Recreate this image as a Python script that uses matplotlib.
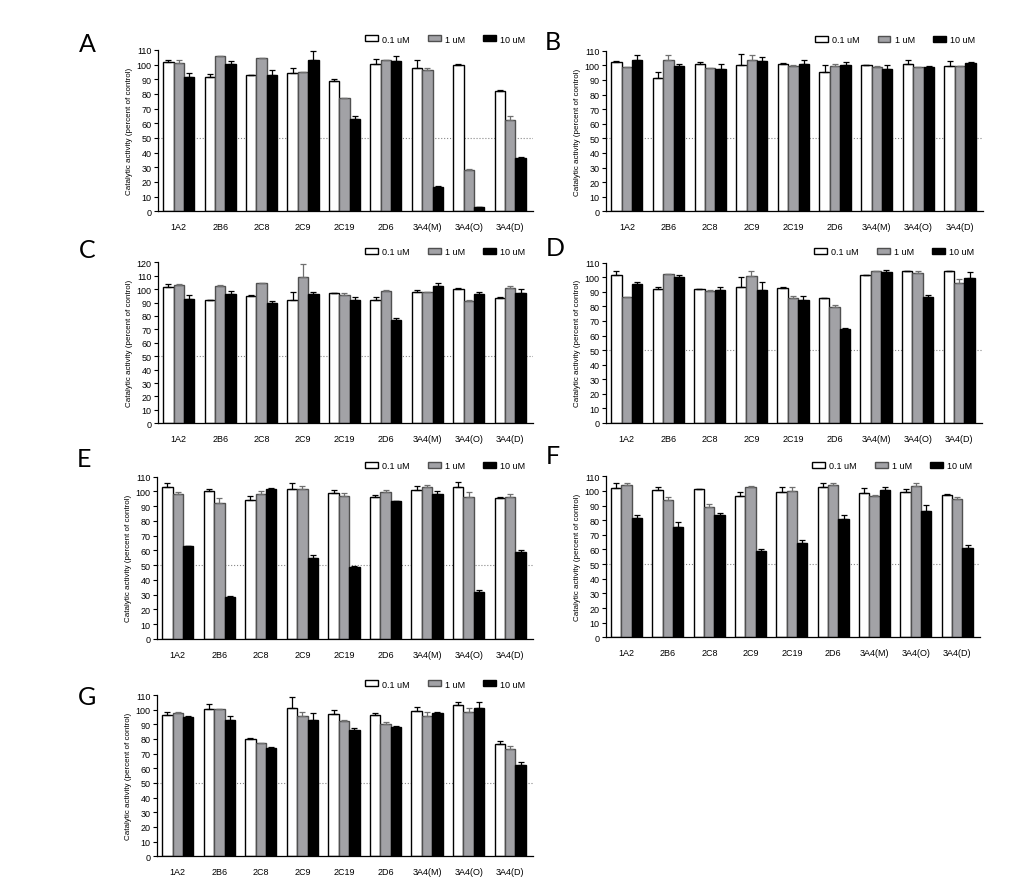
import matplotlib
matplotlib.use("Agg")
import matplotlib.pyplot as plt
import numpy as np

plt.rcParams['font.family'] = ['Liberation Sans', 'DejaVu Sans']

# 数据
isoforms = ['1A2', '2B6', '2C8', '2C9', '2C19', '2D6', '3A4(M)', '3A4(O)', '3A4(D)']
doses = ['0.1 uM', '1 uM', '10 uM']

# mean / upper error cap, per panel, per dose
A_mean = [[101.6, 91.4, 92.7, 94.1, 88.9, 100.2, 97.5, 99.8, 82.0],
          [100.9, 105.7, 104.3, 94.8, 77.0, 103.2, 96.1, 28.4, 62.3],
          [91.6, 100.5, 93.0, 103.2, 62.7, 102.7, 16.8, 2.7, 36.6]]
A_cap = [[103.0, 93.4, 92.9, 97.5, 90.5, 104.0, 103.4, 100.5, 82.7],
         [103.0, 106.1, 104.8, 95.0, 77.2, 103.4, 98.0, 28.9, 65.2],
         [94.0, 102.3, 96.1, 109.3, 65.0, 105.7, 17.0, 2.8, 37.0]]

B_mean = [[102.0, 91.1, 100.9, 100.0, 101.1, 95.4, 100.0, 101.1, 99.3],
          [98.6, 103.4, 97.9, 103.4, 99.8, 99.3, 98.9, 98.6, 99.3],
          [103.6, 99.5, 97.5, 103.0, 100.9, 100.2, 97.7, 98.9, 101.6]]
B_cap = [[103.0, 95.2, 102.0, 107.5, 101.6, 100.0, 100.5, 103.7, 102.7],
         [99.0, 106.8, 98.0, 106.8, 100.0, 100.7, 99.8, 99.0, 99.8],
         [106.8, 100.7, 100.7, 105.5, 103.9, 102.3, 100.5, 99.8, 102.5]]

C_mean = [[101.7, 92.0, 95.0, 92.0, 96.9, 92.0, 97.6, 100.1, 93.2],
          [103.2, 102.0, 104.2, 108.8, 95.9, 98.6, 97.6, 90.9, 100.6],
          [92.5, 96.4, 89.8, 96.4, 92.0, 77.0, 102.4, 96.4, 97.1]]
C_cap = [[103.6, 92.2, 95.7, 97.6, 97.1, 94.0, 99.6, 100.9, 94.4],
         [103.6, 103.4, 104.4, 118.5, 96.9, 99.4, 98.1, 91.9, 102.1],
         [96.0, 98.4, 91.0, 97.6, 94.0, 78.5, 104.6, 98.1, 100.1]]

D_mean = [[101.6, 91.8, 91.8, 93.2, 92.5, 85.6, 101.4, 104.1, 104.1],
          [86.3, 102.0, 90.9, 100.7, 85.6, 79.9, 104.1, 103.2, 95.9],
          [95.4, 100.0, 91.3, 91.3, 84.2, 64.6, 103.4, 86.3, 99.3]]
D_cap = [[104.1, 93.2, 92.2, 100.0, 93.2, 85.8, 101.8, 104.6, 104.6],
         [86.8, 102.2, 91.0, 104.3, 87.0, 81.3, 104.6, 104.6, 99.1],
         [97.0, 101.4, 93.6, 97.0, 87.4, 65.1, 104.8, 88.1, 103.4]]

E_mean = [[102.7, 100.0, 93.9, 101.8, 99.1, 96.4, 101.1, 102.7, 95.9],
          [98.0, 92.1, 98.6, 101.8, 96.6, 99.3, 102.9, 96.4, 96.4],
          [63.0, 28.4, 101.8, 55.1, 48.8, 93.2, 98.0, 31.6, 58.7]]
E_cap = [[105.4, 102.0, 96.6, 105.4, 101.1, 97.5, 103.4, 106.1, 96.1],
         [99.3, 95.3, 100.0, 103.4, 99.1, 101.1, 104.5, 99.3, 98.0],
         [63.1, 28.9, 102.5, 56.9, 49.2, 93.7, 100.0, 33.0, 60.3]]

F_mean = [[101.8, 100.5, 101.1, 96.4, 99.3, 102.5, 98.6, 99.1, 97.0],
          [103.9, 93.8, 89.1, 103.0, 100.2, 103.9, 96.6, 103.2, 94.5],
          [81.8, 75.2, 83.6, 59.0, 64.5, 81.1, 100.7, 86.3, 60.8]]
F_cap = [[105.2, 103.0, 101.6, 99.1, 102.5, 105.7, 101.8, 101.1, 97.7],
         [105.5, 95.7, 90.9, 103.4, 102.5, 105.2, 97.3, 105.7, 95.7],
         [83.4, 78.6, 85.0, 60.4, 66.3, 83.8, 102.5, 90.2, 62.9]]

G_mean = [[96.4, 100.2, 79.8, 101.1, 96.8, 96.6, 99.4, 103.1, 76.4],
          [97.7, 100.2, 77.0, 95.7, 92.5, 90.2, 95.6, 98.3, 73.0],
          [94.8, 93.0, 73.9, 93.0, 86.1, 88.2, 97.8, 101.0, 62.5]]
G_cap = [[98.2, 104.1, 80.9, 108.4, 99.8, 98.0, 102.0, 105.5, 78.4],
         [98.4, 100.7, 77.2, 98.6, 93.0, 91.4, 98.6, 100.9, 75.2],
         [95.9, 95.5, 74.3, 98.0, 87.3, 89.1, 98.2, 105.0, 64.1]]

panels = [('A', A_mean, A_cap, 110), ('B', B_mean, B_cap, 110),
          ('C', C_mean, C_cap, 120), ('D', D_mean, D_cap, 110),
          ('E', E_mean, E_cap, 110), ('F', F_mean, F_cap, 110),
          ('G', G_mean, G_cap, 110)]

# 位置 (像素: 左, y=0 行, 顶部, 右)
W, H = 1025, 887
boxes = [(158, 212.3, 51.0, 533), (606, 212.3, 51.7, 983),
         (158, 424.3, 263.3, 533), (606, 424.0, 263.7, 982),
         (157, 640.0, 477.7, 533), (606, 638.3, 477.3, 980),
         (157, 857.3, 696.0, 533)]
letters = [(87, 44), (553, 42), (87, 250), (555, 248), (84, 460), (553, 457), (87, 698)]

face = ['white', '#a2a2a6', 'black']
edge = ['black', '#505050', 'black']
ecol = ['black', '#707070', 'black']

fig = plt.figure(figsize=(W / 100, H / 100), dpi=100)

x = np.arange(len(isoforms))
w = 0.25
for (name, mean, cap, top), (l, y0, yt, r), (lx, ly) in zip(panels, boxes, letters):
    ax = fig.add_axes([l / W, 1 - y0 / H, (r - l) / W, (y0 - yt) / H])
    ax.axhline(50, ls=':', color='#888888', lw=0.8, zorder=0)
    for i in range(3):
        m = np.array(mean[i])
        e = np.array(cap[i]) - m
        ax.bar(x + (i - 1) * w, m, w, color=face[i], edgecolor=edge[i], linewidth=1.0,
               label=doses[i], zorder=2)
        ax.errorbar(x + (i - 1) * w, m, yerr=[np.zeros_like(e), e], fmt='none',
                    ecolor=ecol[i], elinewidth=0.9, capsize=2.5, capthick=0.9,
                    zorder=3, clip_on=False)
    ax.set_xlim(-0.5, 8.55)
    ax.set_ylim(0, top)
    ax.set_yticks(np.arange(0, top + 1, 10))
    ax.set_xticks(x)
    ax.set_xticklabels(isoforms)
    ax.tick_params(axis='x', length=0, pad=8, labelsize=6.5)
    ax.tick_params(axis='y', length=3, width=0.8, pad=1.5, labelsize=6.5)
    ax.spines['top'].set_visible(False)
    ax.spines['right'].set_visible(False)
    ax.spines['left'].set_linewidth(0.9)
    ax.spines['bottom'].set_linewidth(0.9)
    ax.set_ylabel('Catalytic activity (percent of control)', fontsize=5.8, labelpad=3)
    ax.legend(ncol=3, loc='lower right', bbox_to_anchor=(0.98, 1.04), frameon=False,
              fontsize=6.5, handlelength=1.4, handleheight=0.65, handletextpad=0.5,
              columnspacing=2.0, borderaxespad=0, borderpad=0)
    fig.text(lx / W, 1 - ly / H, name, fontsize=18, family=['Lato', 'DejaVu Sans'],
             fontweight='normal', ha='center', va='center')

plt.savefig('out.png', dpi=100)
